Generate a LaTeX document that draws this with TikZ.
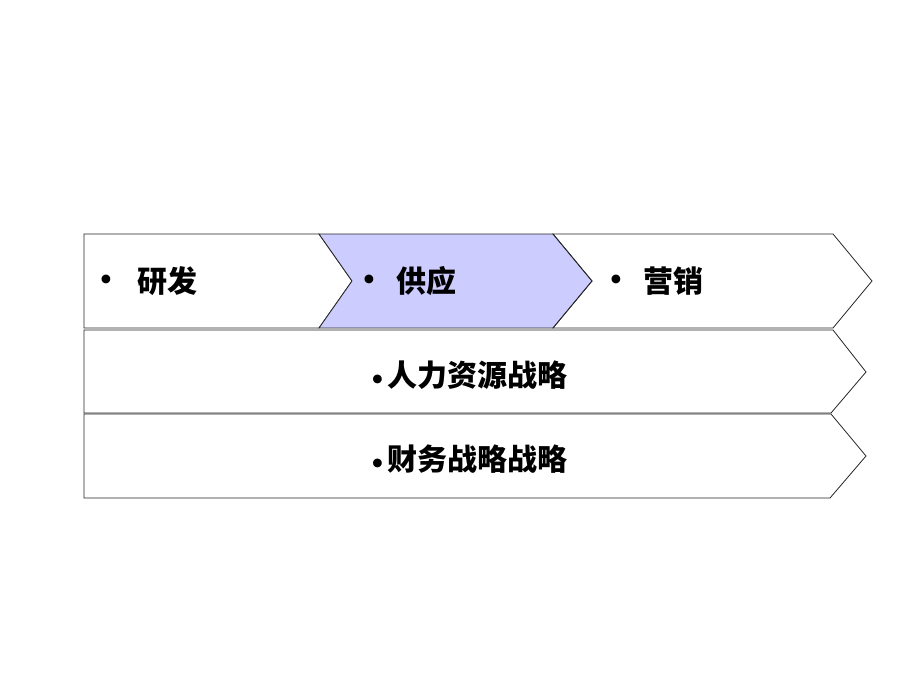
\documentclass[tikz,border=0pt]{standalone}
\usepackage{fontspec}
\newfontfamily\cjk{Noto Sans CJK SC}
\usepackage{xcolor}
\definecolor{lav}{RGB}{204,204,255}
\newcommand{\dotmark}{{\rmfamily\textbullet}}

\begin{document}
\begin{tikzpicture}[x=1pt,y=-1pt,
    every node/.style={font=\cjk\bfseries\fontsize{30}{34}\selectfont,inner sep=0pt},
    band/.style={draw=black!85,line width=0.8pt,line join=miter},
    chosen/.style={band,fill=lav}]
\useasboundingbox (0,0) rectangle (920,690);

% top row: three chevrons
\draw[band] (84,234) -- (319,234) -- (352,281) -- (319,328) -- (84,328) -- cycle;
\draw[chosen] (319,234) -- (553,234) -- (592,281) -- (553,328) -- (319,328) -- (352,281) -- cycle;
\draw[band] (553,234) -- (833,234) -- (872,281) -- (833,328) -- (553,328) -- (592,281) -- cycle;

% lower rows
\draw[band] (84,330) -- (833,330) -- (866,372) -- (831,413) -- (84,413) -- cycle;
\draw[band] (84,414) -- (831,414) -- (866,456) -- (830,498) -- (84,498) -- cycle;

% labels
\node (b1) at (106,281) {\dotmark};
\node[anchor=west] (rd) at (137,281) {研发};
\node (b2) at (369,281) {\dotmark};
\node[anchor=west] (sp) at (396,281) {供应};
\node (b3) at (616,281) {\dotmark};
\node[anchor=west] (mk) at (643,281) {营销};
\node (hr) at (466,375) {\dotmark\kern-3pt 人力资源战略};
\node (fi) at (466,459) {\dotmark\kern-3pt 财务战略战略};

\end{tikzpicture}
\end{document}
